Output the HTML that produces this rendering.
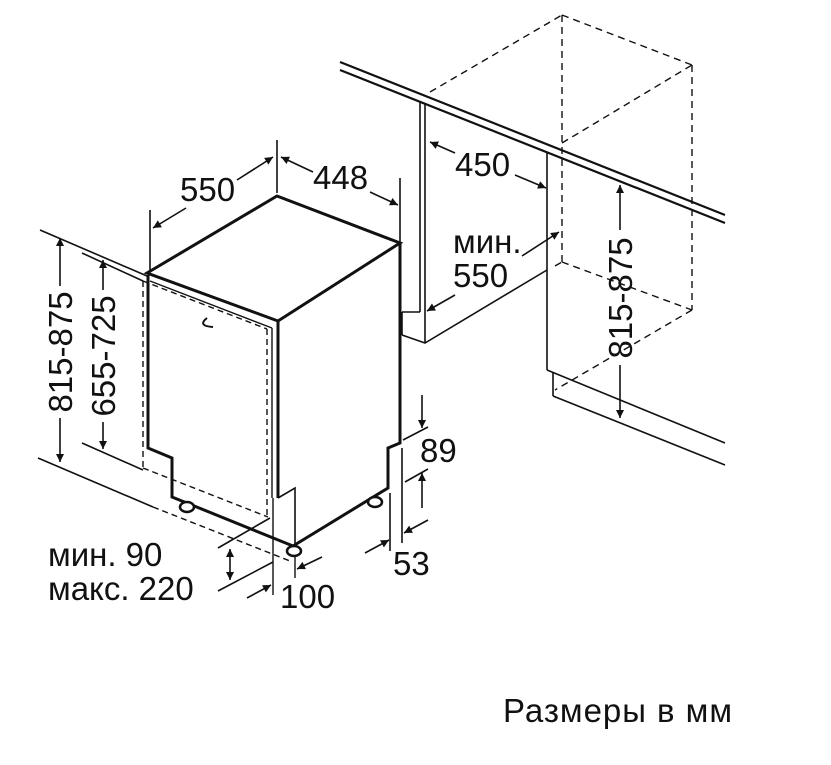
<!DOCTYPE html>
<html><head><meta charset="utf-8"><style>
html,body{margin:0;padding:0;background:#fff;}
svg{display:block;}
text{font-family:"Liberation Sans",Arial,sans-serif;fill:#111;}
</style></head><body>
<svg width="831" height="765" viewBox="0 0 831 765" xmlns="http://www.w3.org/2000/svg">
<defs>
<marker id="a" viewBox="0 0 10 10" refX="10" refY="5" markerWidth="10" markerHeight="8" orient="auto" markerUnits="userSpaceOnUse"><path d="M0,0 L10,5 L0,10 z" fill="#111"/></marker>
</defs>
<g stroke="#111" fill="none" stroke-width="1.6">
<line x1="40" y1="230" x2="147" y2="276"/>
<line x1="82" y1="253" x2="143" y2="281"/>
<line x1="82" y1="443" x2="143" y2="470"/>
<line x1="38" y1="458" x2="153" y2="507"/>
<line x1="60" y1="286" x2="60" y2="238" marker-end="url(#a)"/>
<line x1="60" y1="418" x2="60" y2="462" marker-end="url(#a)"/>
<line x1="103" y1="290" x2="103" y2="260" marker-end="url(#a)"/>
<line x1="103" y1="422" x2="103" y2="449" marker-end="url(#a)"/>
<line x1="150" y1="210" x2="150" y2="272"/>
<line x1="277" y1="140" x2="277" y2="193"/>
<line x1="400" y1="178" x2="400" y2="245"/>
<line x1="237" y1="180" x2="273" y2="157" marker-end="url(#a)"/>
<line x1="186" y1="208" x2="153" y2="228" marker-end="url(#a)"/>
<line x1="313" y1="172" x2="281" y2="157" marker-end="url(#a)"/>
<line x1="370" y1="192" x2="398" y2="205" marker-end="url(#a)"/>
</g>
<g stroke="#111" fill="none" stroke-width="3" stroke-linejoin="miter">
<polygon points="147,273 277,196 400,243 278,321"/>
<polyline points="400,243 400,443 388,448 388,488 293,546 172,497 172,458 148,448 148,275"/>
<line x1="278" y1="321" x2="278" y2="498"/>
<polyline points="278,498 295,488 295,546" stroke-width="1.6"/>
<path d="M207,318 q-10,8 6,9" stroke-width="2"/>
</g>
<g stroke="#111" fill="none" stroke-width="1.4">
<line x1="150" y1="281" x2="272" y2="328"/>
<line x1="272" y1="328" x2="272" y2="498"/>
<line x1="273" y1="498" x2="273" y2="595"/>
<line x1="295" y1="546" x2="295" y2="578"/>
</g>
<g stroke="#111" fill="none" stroke-width="1.4" stroke-dasharray="6,4">
<line x1="143" y1="281" x2="143" y2="468"/>
<line x1="143" y1="281" x2="267" y2="329"/>
<line x1="267" y1="329" x2="267" y2="517"/>
<line x1="143" y1="468" x2="268" y2="517"/>
<line x1="153" y1="507" x2="290" y2="561"/>
</g>
<g stroke="#111" stroke-width="2.5" fill="#fff">
<ellipse cx="187" cy="507" rx="7" ry="5"/>
<ellipse cx="294" cy="551" rx="7" ry="5"/>
<ellipse cx="375" cy="502" rx="7" ry="5"/>
</g>
<g stroke="#111" fill="none" stroke-width="1.6">
<line x1="218" y1="548" x2="270" y2="518"/>
<line x1="218" y1="591" x2="273" y2="562"/>
<line x1="230" y1="565" x2="230" y2="549" marker-end="url(#a)"/>
<line x1="230" y1="565" x2="230" y2="580" marker-end="url(#a)"/>
<line x1="247" y1="598" x2="271" y2="585" marker-end="url(#a)"/>
<line x1="322" y1="557" x2="297" y2="569" marker-end="url(#a)"/>
<line x1="390" y1="493" x2="390" y2="551"/>
<line x1="402" y1="448" x2="402" y2="543"/>
<line x1="403" y1="440" x2="428" y2="427"/>
<line x1="405" y1="482" x2="428" y2="469"/>
<line x1="422" y1="395" x2="422" y2="428" marker-end="url(#a)"/>
<line x1="422" y1="508" x2="422" y2="473" marker-end="url(#a)"/>
<line x1="428" y1="520" x2="404" y2="533" marker-end="url(#a)"/>
<line x1="365" y1="553" x2="389" y2="540" marker-end="url(#a)"/>
</g>
<g stroke="#111" fill="none" stroke-width="2.2">
<line x1="340" y1="62" x2="725" y2="215"/>
<line x1="340" y1="70" x2="725" y2="223"/>
</g>
<g stroke="#111" fill="none" stroke-width="1.6">
<line x1="420" y1="101" x2="420" y2="312"/>
<line x1="425" y1="103" x2="425" y2="343"/>
<line x1="402" y1="312" x2="420" y2="312"/>
<polyline points="402,335 425,343 547,270"/>
<line x1="402" y1="312" x2="402" y2="335"/>
<line x1="547" y1="153" x2="547" y2="370"/>
<line x1="547" y1="370" x2="725" y2="443"/>
<line x1="553" y1="373" x2="553" y2="396"/>
<line x1="553" y1="396" x2="725" y2="465"/>
<line x1="455" y1="153" x2="430" y2="142" marker-end="url(#a)"/>
<line x1="515" y1="175" x2="546" y2="188" marker-end="url(#a)"/>
<line x1="522" y1="256" x2="559" y2="232" marker-end="url(#a)"/>
<line x1="455" y1="295" x2="427" y2="311" marker-end="url(#a)"/>
<line x1="620" y1="230" x2="620" y2="185" marker-end="url(#a)"/>
<line x1="620" y1="365" x2="620" y2="418" marker-end="url(#a)"/>
</g>
<g stroke="#111" fill="none" stroke-width="1.4" stroke-dasharray="7,5">
<line x1="430" y1="92" x2="562" y2="15"/>
<line x1="562" y1="15" x2="692" y2="65"/>
<line x1="562" y1="15" x2="562" y2="262"/>
<line x1="692" y1="65" x2="692" y2="310"/>
<line x1="562" y1="143" x2="692" y2="65"/>
<line x1="555" y1="266" x2="562" y2="262"/>
<line x1="562" y1="262" x2="692" y2="310"/>
<line x1="692" y1="310" x2="555" y2="390"/>
</g>
<g font-size="33">
<text x="180" y="201">550</text>
<text x="313" y="189">448</text>
<text x="455" y="176">450</text>
<text x="453" y="253">мин.</text>
<text x="453" y="287">550</text>
<text x="420" y="462">89</text>
<text x="393" y="575">53</text>
<text x="48" y="566">мин. 90</text>
<text x="48" y="600">макс. 220</text>
<text x="280" y="608">100</text>
<text x="503" y="722" textLength="229">Размеры в мм</text>
<text transform="translate(72,352) rotate(-90)" text-anchor="middle">815-875</text>
<text transform="translate(115,356) rotate(-90)" text-anchor="middle">655-725</text>
<text transform="translate(632,298) rotate(-90)" text-anchor="middle">815-875</text>
</g>
</svg>
</body></html>
